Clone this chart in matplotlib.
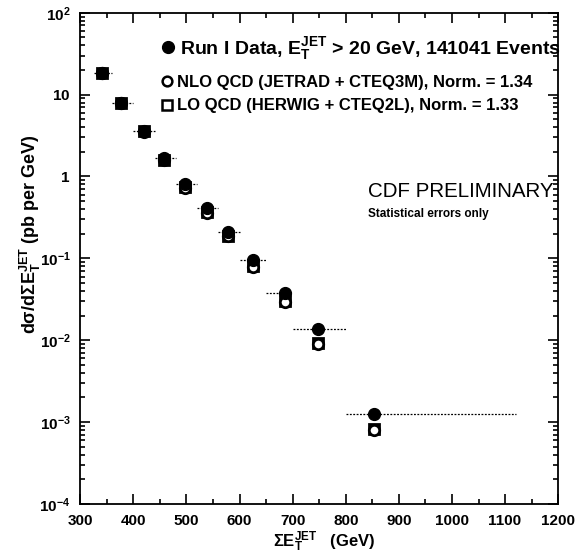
import numpy as np
import matplotlib
matplotlib.use("Agg")
import matplotlib.pyplot as plt
from matplotlib.ticker import FixedLocator, FixedFormatter, LogLocator, NullFormatter, MultipleLocator
from matplotlib.lines import Line2D

plt.rcParams['font.family'] = ['Liberation Sans', 'DejaVu Sans']
plt.rcParams['mathtext.fontset'] = 'custom'
plt.rcParams['mathtext.rm'] = 'Liberation Sans:bold'
plt.rcParams['mathtext.it'] = 'Liberation Sans:bold'
plt.rcParams['mathtext.bf'] = 'Liberation Sans:bold'

# ---- data ----
sum_et = [340, 377, 420, 458, 498, 538, 578, 625, 686, 748, 854]
bin_lo = [326, 360, 400, 440, 480, 520, 560, 600, 650, 700, 800]
bin_hi = [360, 400, 440, 480, 520, 560, 600, 650, 700, 800, 1120]
data = [18.5, 8.0, 3.6, 1.70, 0.80, 0.41, 0.21, 0.095, 0.038, 0.0138, 0.00124]
nlo = [18.2, 7.8, 3.5, 1.58, 0.72, 0.36, 0.185, 0.079, 0.029, 0.0090, 0.00080]
lo = [18.3, 7.9, 3.55, 1.60, 0.74, 0.37, 0.19, 0.081, 0.030, 0.0092, 0.00082]

x_ticks = [300, 400, 500, 600, 700, 800, 900, 1000, 1100, 1200]
y_ticks = [1e-4, 1e-3, 1e-2, 1e-1, 1, 10, 100]
y_labels = [r'$10^{-4}$', r'$10^{-3}$', r'$10^{-2}$', r'$10^{-1}$', r'$1\;\;$', r'$10\;\;$', r'$10^{2}\;$']

fig = plt.figure(figsize=(5.82, 5.55), dpi=100)
ax = fig.add_axes([0.138, 0.092, 0.821, 0.885])

x = np.array(sum_et)
xerr = np.array([x - np.array(bin_lo), np.array(bin_hi) - x])

ax.plot(x, lo, linestyle='none', marker='s', ms=7, mfc='white', mec='black', mew=2.0, zorder=3)
ax.plot(x, nlo, linestyle='none', marker='o', ms=7.5, mfc='white', mec='black', mew=2.0, zorder=4)
eb = ax.errorbar(x, data, xerr=xerr, fmt='o', ms=8.5, color='black', ecolor='black',
                 elinewidth=0.9, capsize=0, zorder=5)
for lc in eb[2]:
    lc.set_linestyle((0, (1.5, 1.2)))

ax.set_yscale('log')
ax.set_xlim(300, 1200)
ax.set_ylim(1e-4, 1e2)

ax.xaxis.set_major_locator(FixedLocator(x_ticks))
ax.xaxis.set_major_formatter(FixedFormatter([str(t) for t in x_ticks]))
ax.xaxis.set_minor_locator(MultipleLocator(50))
ax.yaxis.set_major_locator(FixedLocator(y_ticks))
ax.yaxis.set_major_formatter(FixedFormatter(y_labels))
ax.yaxis.set_minor_locator(LogLocator(base=10, subs=np.arange(2, 10), numticks=20))
ax.yaxis.set_minor_formatter(NullFormatter())

ax.tick_params(which='both', direction='in', top=True, right=True, width=1.2)
ax.tick_params(which='major', length=7, labelsize=11)
ax.tick_params(which='minor', length=3.5)
for lab in ax.get_xticklabels() + ax.get_yticklabels():
    lab.set_fontweight('bold')
ax.tick_params(axis='x', pad=7)
ax.tick_params(axis='y', pad=7)
for s in ax.spines.values():
    s.set_linewidth(1.3)

ax.set_xlabel(r'$\Sigma$E$_{\rm T}^{\rm JET}$   (GeV)', fontsize=12, fontweight='bold')
ax.xaxis.set_label_coords(0.51, -0.052)
ax.set_ylabel(r'd$\sigma$/d$\Sigma$E$_{\rm T}^{\rm JET}$ (pb per GeV)', fontsize=13, fontweight='bold')
ax.yaxis.set_label_coords(-0.079, 0.55)

h_data = [Line2D([], [], linestyle='none', marker='o', ms=8.5, color='black')]
l_data = [r'Run I Data, E$_{\rm T}^{\rm JET}$ > 20 GeV, 141041 Events']
leg1 = ax.legend(h_data, l_data, loc='center left', bbox_to_anchor=(0.172, 0.927), frameon=False,
                 handlelength=0.6, handletextpad=0.3, borderpad=0, borderaxespad=0,
                 prop={'size': 14, 'weight': 'bold'})
ax.add_artist(leg1)

h_mod = [
    Line2D([], [], linestyle='none', marker='o', ms=7, mfc='white', mec='black', mew=1.8),
    Line2D([], [], linestyle='none', marker='s', ms=7, mfc='white', mec='black', mew=1.8),
]
l_mod = [
    'NLO QCD (JETRAD + CTEQ3M), Norm. = 1.34',
    'LO QCD (HERWIG + CTEQ2L), Norm. = 1.33',
]
leg2 = ax.legend(h_mod, l_mod, loc='upper left', bbox_to_anchor=(0.170, 0.873), frameon=False,
                 handlelength=0.6, handletextpad=0.35, labelspacing=0.5, borderpad=0, borderaxespad=0,
                 prop={'size': 12, 'weight': 'bold'})

ax.text(0.603, 0.625, 'CDF PRELIMINARY', transform=ax.transAxes, fontsize=14.8, fontweight='normal')
ax.text(0.603, 0.584, 'Statistical errors only', transform=ax.transAxes, fontsize=8.5, fontweight='bold')

fig.savefig('out.png', dpi=100)
